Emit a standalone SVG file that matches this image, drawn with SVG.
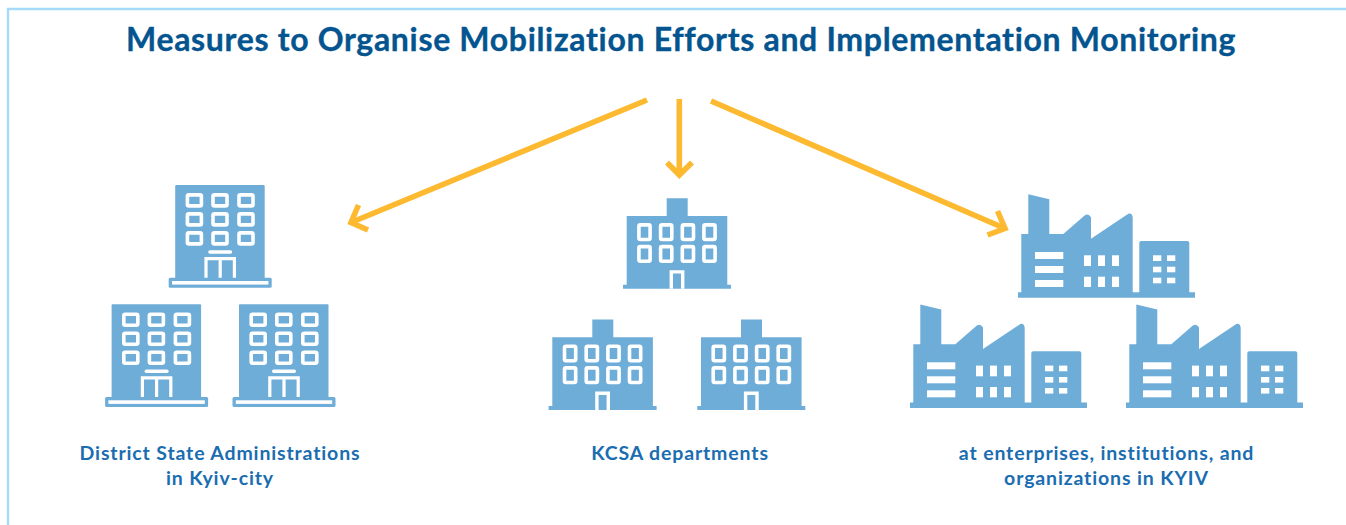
<svg xmlns="http://www.w3.org/2000/svg" width="1346" height="525" viewBox="0 0 1346 525">
<style>
.title{font:700 32px "Lato","Liberation Sans",sans-serif;fill:#03548f;stroke:#03548f;stroke-width:.35;text-anchor:middle;letter-spacing:.68px}
.lab{font:700 19.5px "Lato","Liberation Sans",sans-serif;fill:#1a6db0;text-anchor:middle;letter-spacing:.85px}
.b{fill:#6fadd9}
.w{fill:#fff}
.wl{fill:#6fadd9;stroke:#fff;stroke-width:3.6}
.ar{fill:none;stroke:#fdb92f;stroke-width:5.6}
</style>
<defs>
<g id="office">
<rect class="b" x="0" y="0" width="89.5" height="95" rx="1"/>
<rect class="b" x="-6.5" y="92.7" width="103" height="10" rx="1.5"/>
<rect class="w" x="-3.2" y="96" width="96.4" height="3.6"/>
<g id="officeRow">
<rect class="wl" x="12.2" y="9.9" width="14" height="11" rx="1.5"/>
<rect class="wl" x="37.8" y="9.9" width="14" height="11" rx="1.5"/>
<rect class="wl" x="63.8" y="9.9" width="14" height="11" rx="1.5"/>
</g>
<use href="#officeRow" y="19"/>
<use href="#officeRow" y="38"/>
<rect class="w" x="33" y="65.3" width="24" height="3.4" rx="1.7"/>
<path d="M30.8 92.7V73.6H59.2V92.7M45 73.6V92.7M30.8 73.6H59.2" fill="none" stroke="#fff" stroke-width="3.2"/>
</g>
<g id="hall">
<path class="b" d="M40 0H61V17.7H100.6V86.4H104.3V90.4H-3.7V86.4H0V17.7H40Z"/>
<g id="hallRow">
<rect class="wl" x="12.2" y="26.6" width="11.2" height="14.6" rx="1.5"/>
<rect class="wl" x="33.9" y="26.6" width="11.2" height="14.6" rx="1.5"/>
<rect class="wl" x="55.6" y="26.6" width="11.2" height="14.6" rx="1.5"/>
<rect class="wl" x="77.2" y="26.6" width="11.2" height="14.6" rx="1.5"/>
</g>
<use href="#hallRow" y="21.7"/>
<path d="M44.6 90.4V73.6H56V90.4" fill="none" stroke="#fff" stroke-width="3.4"/>
</g>
<g id="factory">
<path class="b" d="M10 0L31 5V39.7H45L66 21.4Q70 18.5 72.7 23V44.4L110 19.4Q114.4 18.5 114.4 24V98H121V48.5Q121 46.7 123 46.7H169Q171 46.7 171 48.5V98H176.7V103.4H-.3V98H3V39.7H10Z"/>
<g class="w">
<rect x="16.7" y="57.7" width="28.3" height="7"/><rect x="16.7" y="71.7" width="28.3" height="7"/><rect x="16.7" y="85.7" width="28.3" height="7"/>
<rect x="65.7" y="61" width="7" height="10.7"/><rect x="79.7" y="61" width="7" height="10.7"/><rect x="93.7" y="61" width="7" height="10.7"/>
<rect x="65.7" y="82.4" width="7" height="10.3"/><rect x="79.7" y="82.4" width="7" height="10.3"/><rect x="93.7" y="82.4" width="7" height="10.3"/>
<rect x="134.7" y="61" width="8.3" height="5.7"/><rect x="148.7" y="61" width="8.3" height="5.7"/>
<rect x="134.7" y="72.4" width="8.3" height="5.6"/><rect x="148.7" y="72.4" width="8.3" height="5.6"/>
<rect x="134.7" y="83.4" width="8.3" height="5.6"/><rect x="148.7" y="83.4" width="8.3" height="5.6"/>
</g>
</g>
</defs>
<rect width="1346" height="525" fill="#fff"/>
<path d="M8 525V9H1346" fill="none" stroke="#a5daf8" stroke-width="2.4"/>
<text class="title" x="681" y="51">Measures to Organise Mobilization Efforts and Implementation Monitoring</text>
<g id="connectors">
<g id="arrow-left"><path class="ar" d="M647 100L351 222.5"/><path class="ar" d="M358.500 205L351 222.5L368 230"/></g>
<g id="arrow-middle"><path class="ar" d="M679.300 99V175"/><path class="ar" d="M667 162.500L679.300 175L692 162.500"/></g>
<g id="arrow-right"><path class="ar" d="M711 101L1005 228.500"/><path class="ar" d="M997.500 211L1005 228.500L987.500 235"/></g>
</g>
<g id="node-district">
<use href="#office" x="175.200" y="185"/>
<use href="#office" x="111.600" y="304.300"/>
<use href="#office" x="239" y="304.300"/>
<text class="lab" x="220" y="460">District State Administrations</text>
<text class="lab" x="220" y="485">in Kyiv-city</text>
</g>
<g id="node-kcsa">
<use href="#hall" x="626.700" y="198.300"/>
<use href="#hall" x="552.300" y="319.600"/>
<use href="#hall" x="701" y="319.600"/>
<text class="lab" x="680" y="460">KCSA departments</text>
</g>
<g id="node-enterprises">
<use href="#factory" x="1018.300" y="194.300"/>
<use href="#factory" x="910.300" y="304.600"/>
<use href="#factory" x="1126.300" y="304.600"/>
<text class="lab" x="1106.500" y="460">at enterprises, institutions, and</text>
<text class="lab" x="1106.500" y="485">organizations in KYIV</text>
</g>
</svg>
